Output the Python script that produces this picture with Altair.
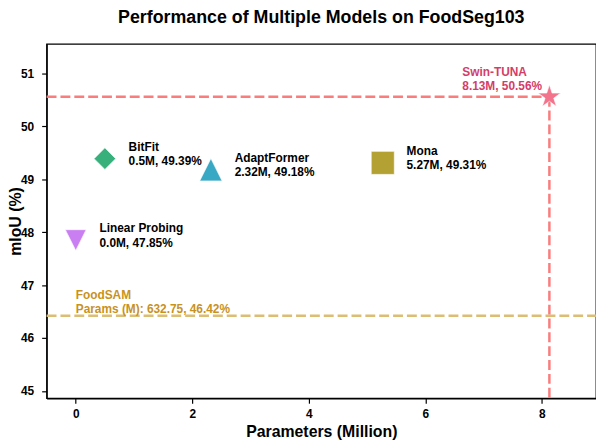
import math
import altair as alt
import pandas as pd

# ---- data ----
models = ["Linear Probing", "BitFit", "AdaptFormer", "Mona", "Swin-TUNA"]
params_m = [0.0, 0.5, 2.32, 5.27, 8.13]
miou = [47.85, 49.39, 49.18, 49.31, 50.56]

foodsam_name = "FoodSAM"
foodsam_params = 632.75
foodsam_miou = 46.42

x_ticks = [0, 2, 4, 6, 8]
y_ticks = [45, 46, 47, 48, 49, 50, 51]
x_limits = [-0.5, 8.93]
y_limits = [44.86, 51.56]

# ---- styles ----
colors = ["#c97ef2", "#37b07c", "#39a8c4", "#b4a133", "#f4738c"]
pts = []
for i in range(10):
    a = math.radians(-90 + i * 36)
    r = 1.0 if i % 2 == 0 else 0.382
    pts.append(f"{r*math.cos(a):.4f},{r*math.sin(a):.4f}")
star_path = "M" + "L".join(pts) + "Z"
shapes = ["M0,1L1,-1L-1,-1Z", "diamond", "M0,-1L1,1L-1,1Z", "square", star_path]
sizes = [441, 576, 484, 340, 700]
FONT = "Liberation Sans"

df = pd.DataFrame({
    "model": models,
    "params": params_m,
    "miou": miou,
    "label": [f"{n}\n{p}M, {m}%" for n, p, m in zip(models, params_m, miou)],
})

xs = alt.Scale(domain=x_limits, nice=False, zero=False)
ys = alt.Scale(domain=y_limits, nice=False, zero=False)

x_axis = alt.Axis(values=x_ticks, title="Parameters (Million)", format="d")
y_axis = alt.Axis(values=y_ticks, title="mIoU (%)", format="d")

# FoodSAM horizontal reference line
fs_df = pd.DataFrame({"x": [x_limits[0]], "x2": [x_limits[1]], "y": [foodsam_miou],
                      "label": [f"{foodsam_name}\nParams (M): {foodsam_params}, {foodsam_miou}%"],
                      "lx": [0.0]})
fs_rule = alt.Chart(fs_df).mark_rule(color="#dcbd74", strokeWidth=2.5, strokeDash=[10, 4]).encode(
    x=alt.X("x:Q", scale=xs, axis=x_axis), x2="x2:Q", y=alt.Y("y:Q", scale=ys, axis=y_axis)
)
fs_text = alt.Chart(fs_df).mark_text(
    align="left", baseline="middle", dy=-21, fontSize=12, fontWeight="bold", font=FONT,
    lineBreak="\n", lineHeight=14.5, color="#c8921e"
).encode(x=alt.X("lx:Q", scale=xs), y=alt.Y("y:Q", scale=ys), text="label:N")

# Swin-TUNA guide lines
best = df[df["model"] == "Swin-TUNA"].copy()
best["xl"] = x_limits[0]
best["yb"] = y_limits[0]
h_rule = alt.Chart(best).mark_rule(color="#fa7d7d", strokeWidth=2.5, strokeDash=[10, 4]).encode(
    x=alt.X("xl:Q", scale=xs), x2="params:Q", y=alt.Y("miou:Q", scale=ys)
)
v_rule = alt.Chart(best).mark_rule(color="#fa7d7d", strokeWidth=2.5, strokeDash=[10, 4]).encode(
    x=alt.X("params:Q", scale=xs), y=alt.Y("miou:Q", scale=ys), y2="yb:Q"
)

points = alt.Chart(df).mark_point(filled=True, opacity=1, stroke="white", strokeWidth=0.6).encode(
    x=alt.X("params:Q", scale=xs),
    y=alt.Y("miou:Q", scale=ys),
    color=alt.Color("model:N", scale=alt.Scale(domain=models, range=colors), legend=None),
    fill=alt.Fill("model:N", scale=alt.Scale(domain=models, range=colors), legend=None),
    shape=alt.Shape("model:N", scale=alt.Scale(domain=models, range=shapes), legend=None),
    size=alt.Size("model:N", scale=alt.Scale(domain=models, range=sizes), legend=None),
)

labels = alt.Chart(df[df["model"] != "Swin-TUNA"]).mark_text(
    align="left", baseline="middle", dx=24, dy=-12, fontSize=12, fontWeight="bold", font=FONT,
    lineBreak="\n", lineHeight=14.5, color="black"
).encode(x=alt.X("params:Q", scale=xs), y=alt.Y("miou:Q", scale=ys), text="label:N")

best_label = alt.Chart(best).mark_text(
    align="left", baseline="middle", dx=-88, dy=-25, fontSize=12, fontWeight="bold", font=FONT,
    lineBreak="\n", lineHeight=14.5, color="#d43d6a"
).encode(x=alt.X("params:Q", scale=xs), y=alt.Y("miou:Q", scale=ys), text="label:N")

chart = alt.layer(fs_rule, h_rule, v_rule, fs_text, points, labels, best_label).properties(
    width=555,
    height=358,
    autosize="none",
    padding={"left": 39, "top": 34, "right": 0, "bottom": 44},
    title=alt.TitleParams(
        "Performance of Multiple Models on FoodSeg103",
        fontSize=18, fontWeight="bold", font=FONT, anchor="middle", frame="group",
        offset=17, color="black",
    ),
).configure_view(
    stroke="black", strokeWidth=1.3
).configure_axis(
    grid=False, domainColor="black", domainWidth=1.3, tickColor="black", tickWidth=1.2,
    tickSize=5, labelFont=FONT, labelFontSize=12, labelFontWeight="bold", labelColor="black",
    titleFont=FONT, titleFontSize=16, titleFontWeight="bold", titleColor="black",
).configure_axisX(labelPadding=5, titlePadding=5).configure_axisY(labelPadding=8, titlePadding=-3)

chart.save("out.html", embed_options={"renderer": "svg", "actions": False})
